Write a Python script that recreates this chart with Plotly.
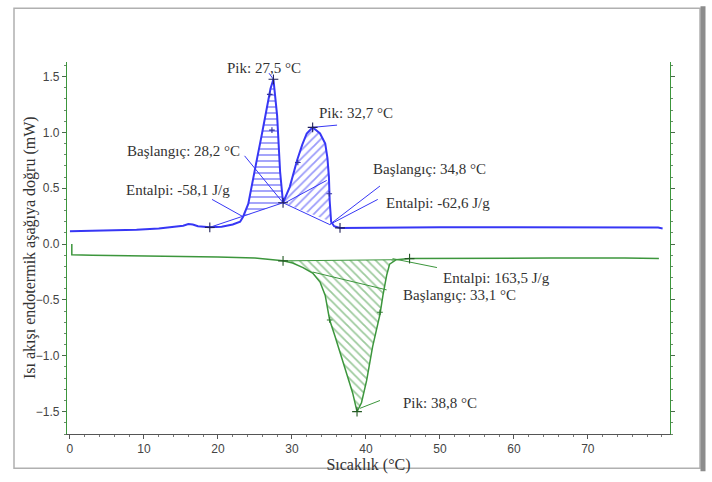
import plotly.graph_objects as go

# ---------------- data ----------------
blue_x = [0, 3, 6, 9, 12, 14, 15.3, 16.0, 16.6, 17.3, 18.9, 20.5, 22.0, 23.0, 23.4, 24.1,
          24.6, 25.3, 25.9, 26.6, 27.1, 27.5, 28.0, 28.4, 28.8, 29.7, 30.7, 31.4, 32.0,
          32.8, 33.8, 34.5, 34.8, 35.0, 35.1, 35.3, 35.7, 36.5, 40, 50, 60, 70, 79.5, 80.1]
blue_y = [0.115, 0.118, 0.122, 0.128, 0.14, 0.152, 0.165, 0.18, 0.175, 0.16, 0.15, 0.155,
          0.175, 0.2, 0.245, 0.36, 0.54, 0.77, 0.97, 1.21, 1.39, 1.475, 1.15, 0.65, 0.37,
          0.51, 0.75, 0.89, 0.99, 1.045, 0.99, 0.9, 0.77, 0.6, 0.39, 0.2, 0.16, 0.145,
          0.148, 0.15, 0.15, 0.15, 0.148, 0.14]

green_x = [0.25, 0.25, 3, 10, 20, 25, 28.8, 30.1, 31.5, 32.8, 33.8, 34.5, 35.1, 35.8, 36.5,
           37.4, 38.2, 38.8, 39.4, 40.1, 40.9, 41.9, 42.3, 42.8, 43.2, 44.1, 45.9, 55, 65,
           75, 79.3, 79.6]
green_y = [0.0, -0.095, -0.1, -0.105, -0.115, -0.125, -0.15, -0.17, -0.21, -0.26, -0.34,
           -0.46, -0.68, -0.82, -0.96, -1.16, -1.33, -1.5, -1.42, -1.22, -0.92, -0.63,
           -0.46, -0.28, -0.18, -0.14, -0.13, -0.125, -0.125, -0.125, -0.125, -0.13]

# integration windows (x start, x end) and hatch style
hatch_windows = [(23.4, 28.8), (28.8, 35.3), (28.8, 44.1)]
hatch_shapes = ["-", "/", "\\"]

# "+" markers on the curves (main) and small tick marks (minor)
blue_marks_x = [18.9, 28.8, 36.5, 27.5, 32.8]
blue_marks_y = [0.15, 0.37, 0.145, 1.475, 1.045]
blue_minor_x = [27.0, 27.3, 30.8, 35.05]
blue_minor_y = [1.34, 1.02, 0.73, 0.45]
green_marks_x = [28.8, 45.9, 38.8]
green_marks_y = [-0.15, -0.13, -1.5]
green_minor_x = [35.1, 41.9]
green_minor_y = [-0.68, -0.61]

# construction / leader lines (x0, y0, x1, y1)
blue_lines = [
    (18.9, 0.15, 28.8, 0.37),     # baseline peak 1
    (28.8, 0.37, 35.1, 0.175),    # baseline peak 2
    (28.8, 0.36, 34.7, 0.57),     # tangent
    (26.9, 1.53, 27.5, 1.475),    # Pik 27,5
    (36.1, 1.065, 32.8, 1.045),   # Pik 32,7
    (23.6, 0.79, 28.8, 0.37),     # Başlangıç 28,2
    (19.2, 0.40, 23.4, 0.245),    # Entalpi -58,1
    (41.9, 0.52, 35.1, 0.175),    # Başlangıç 34,8
    (41.6, 0.40, 35.1, 0.175),    # Entalpi -62,6
]
green_lines = [
    (28.8, -0.15, 44.1, -0.14),   # baseline
    (43.6, -0.13, 49.6, -0.21),   # Entalpi 163,5
    (32.8, -0.25, 42.8, -0.41),   # Başlangıç 33,1
    (39.2, -1.47, 41.9, -1.40),   # Pik 38,8
]

label_texts = ["Pik: 27,5 °C", "Pik: 32,7 °C", "Başlangıç: 28,2 °C", "Entalpi: -58,1 J/g",
               "Başlangıç: 34,8 °C", "Entalpi: -62,6 J/g", "Entalpi: 163,5 J/g",
               "Başlangıç: 33,1 °C", "Pik: 38,8 °C"]
label_x = [26.2, 38.6, 15.4, 14.6, 48.6, 49.7, 57.6, 52.7, 50.0]
label_y = [1.58, 1.17, 0.83, 0.48, 0.67, 0.37, -0.30, -0.46, -1.42]

x_ticks = [0, 10, 20, 30, 40, 50, 60, 70]
y_ticks = [-1.5, -1.0, -0.5, 0.0, 0.5, 1.0, 1.5]
x_title = "Sıcaklık (°C)"
y_title = "Isı akışı endotermik aşağıya doğru (mW)"

# ---------------- style ----------------
BLUE = "rgb(55,55,245)"
GREEN = "rgb(60,150,60)"
W, H = 712, 482
ML, MR, MT, MB = 67, 42, 62, 40

fig = go.Figure()

curves = [(blue_x, blue_y), (blue_x, blue_y), (green_x, green_y)]
colors = [BLUE, BLUE, GREEN]
for (cx, cy), (a, b), shp, col in zip(curves, hatch_windows, hatch_shapes, colors):
    px = [x for x in cx if a <= x <= b]
    py = [y for x, y in zip(cx, cy) if a <= x <= b]
    fig.add_trace(go.Scatter(x=px, y=py, mode="lines", fill="toself",
                             line=dict(width=0, color=col),
                             fillcolor="rgba(0,0,0,0)",
                             fillpattern=dict(shape=shp, fgcolor=col, bgcolor="rgba(0,0,0,0)",
                                              size=6, solidity=0.3),
                             hoverinfo="skip", showlegend=False))

for lines, col in [(blue_lines, BLUE), (green_lines, GREEN)]:
    for (x0, y0, x1, y1) in lines:
        fig.add_trace(go.Scatter(x=[x0, x1], y=[y0, y1], mode="lines",
                                 line=dict(color=col, width=1), showlegend=False,
                                 hoverinfo="skip"))

fig.add_trace(go.Scatter(x=blue_x, y=blue_y, mode="lines",
                         line=dict(color=BLUE, width=2), showlegend=False))
fig.add_trace(go.Scatter(x=green_x, y=green_y, mode="lines",
                         line=dict(color=GREEN, width=1.5), showlegend=False))

for mx, my, sz, col in [(blue_marks_x, blue_marks_y, 7, "#20205a"),
                        (blue_minor_x, blue_minor_y, 4, "#3030a0"),
                        (green_marks_x, green_marks_y, 7, "#245a24"),
                        (green_minor_x, green_minor_y, 4, "#2f7a2f")]:
    fig.add_trace(go.Scatter(x=mx, y=my, mode="markers",
                             marker=dict(symbol="cross-thin", size=sz,
                                         line=dict(color=col, width=1.1)),
                             showlegend=False))

for t, x, y in zip(label_texts, label_x, label_y):
    fig.add_annotation(x=x, y=y, text=t, showarrow=False,
                       font=dict(family="Liberation Serif", size=15, color="#333"))

# outer frame (pixel -> paper)
pw, ph = W - ML - MR, H - MT - MB
def pxx(p): return (p - ML) / pw
def pxy(p): return (H - MB - p) / ph
fig.add_shape(type="rect", xref="paper", yref="paper",
              x0=pxx(14), x1=pxx(700), y0=pxy(477), y1=pxy(7),
              line=dict(color="#b0b0b0", width=1.5))
fig.add_shape(type="line", xref="paper", yref="paper",
              x0=pxx(703), x1=pxx(703), y0=pxy(480), y1=pxy(5),
              line=dict(color="#8c8c8c", width=5))

# y-axis title placed as rotated text
fig.add_annotation(xref="paper", yref="paper", x=pxx(30), y=0.5, text=y_title,
                   textangle=-90, showarrow=False, xanchor="center", yanchor="middle",
                   font=dict(family="Liberation Serif", size=16, color="#333"))

fig.update_layout(
    width=W, height=H, margin=dict(l=ML, r=MR, t=MT, b=MB),
    paper_bgcolor="white", plot_bgcolor="white",
    xaxis=dict(range=[-0.4, 81.1], tickvals=x_ticks, ticks="outside", ticklen=4,
               tickcolor="#555", showline=True, linecolor="#555", linewidth=1,
               showgrid=False, zeroline=False,
               minor=dict(dtick=2, ticks="outside", ticklen=2, tickcolor="#777"),
               tickfont=dict(family="Liberation Sans", size=12, color="#444"),
               title=dict(text=x_title, standoff=2,
                          font=dict(family="Liberation Serif", size=16, color="#333"))),
    yaxis=dict(range=[-1.70, 1.63], tickvals=y_ticks, tickformat=".1f",
               ticks="outside", ticklen=4, tickcolor="#4a6a4a",
               showline=True, linecolor=GREEN, linewidth=1.2, mirror="ticks",
               showgrid=False, zeroline=False,
               minor=dict(dtick=0.1, ticks="outside", ticklen=2, tickcolor="#6a8a6a"),
               tickfont=dict(family="Liberation Sans", size=12, color="#444")),
)

fig.write_html("out.html")
